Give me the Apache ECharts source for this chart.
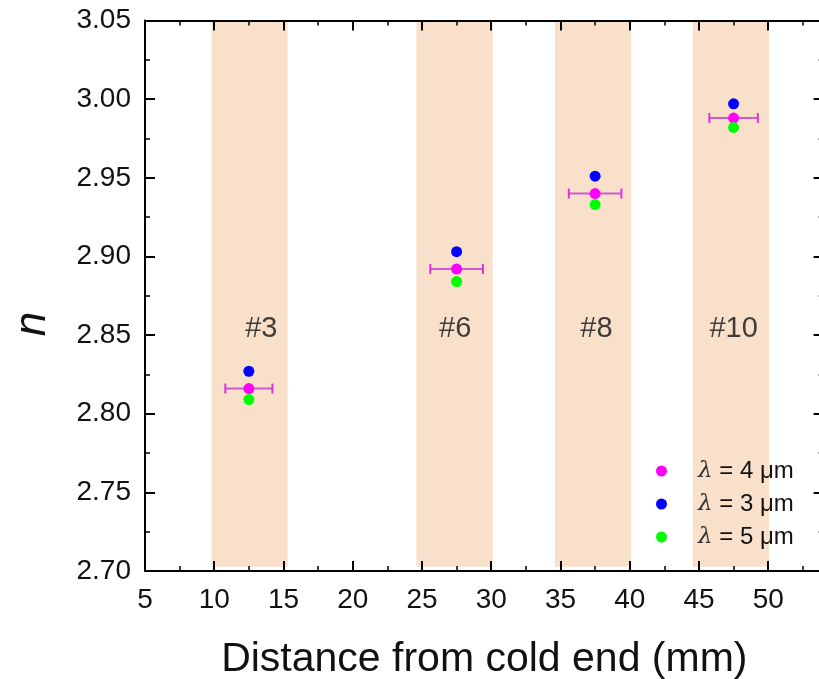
<!DOCTYPE html>
<html><head><meta charset="utf-8">
<script src="https://cdn.jsdelivr.net/npm/echarts@6/dist/echarts.min.js"></script>
<style>html,body{margin:0;padding:0;background:#fff}#c{width:819px;height:679px}</style>
</head><body><div id="c"></div>
<script>
// ---- data ----
const positions = [12.5, 27.5, 37.5, 47.5];
const n4 = [2.816, 2.892, 2.940, 2.988];   // lambda = 4 um
const n3 = [2.827, 2.903, 2.951, 2.997];   // lambda = 3 um
const n5 = [2.809, 2.884, 2.933, 2.982];   // lambda = 5 um
const xErr4 = [1.7, 1.9, 1.9, 1.75];
const sampleLabels = ['#3', '#6', '#8', '#10'];
const labelX = [13.4, 27.4, 37.6, 47.5];
const labelY = 2.854;
const bandStart = [9.8, 24.6, 34.6, 44.55];
const bandEnd = [15.3, 30.1, 40.1, 50.05];
const seriesNames = ['λ = 4 μm', 'λ = 3 μm', 'λ = 5 μm'];
const xTitle = 'Distance from cold end (mm)';
const yTitle = 'n';

const FONT = 'Liberation Sans, Arial, sans-serif';
const X_MIN = 5, X_MAX = 54, Y_MIN = 2.70, Y_MAX = 3.05;

const chart = echarts.init(document.getElementById('c'), null, {renderer: 'canvas'});

const axisLine = {show: true, lineStyle: {color: '#000', width: 2}};
function xAx(pos, interval, opts) {
  return Object.assign({
    type: 'value', position: pos, min: X_MIN, max: X_MAX, interval: interval, z: 10,
    axisLine: axisLine, splitLine: {show: false},
    axisTick: {show: true, inside: true, length: 10, lineStyle: {color: '#000', width: 2}},
    axisLabel: {show: false}
  }, opts || {});
}
function yAx(pos, opts) {
  return Object.assign({
    type: 'value', position: pos, min: Y_MIN, max: Y_MAX, interval: 0.05, z: 10,
    axisLine: axisLine, splitLine: {show: false},
    axisTick: {show: true, inside: true, length: 10, lineStyle: {color: '#000', width: 2}},
    minorTick: {show: true, splitNumber: 2, length: 5, lineStyle: {color: '#000', width: 1.5}},
    axisLabel: {show: false}
  }, opts || {});
}

const option = {
  animation: false,
  backgroundColor: '#fff',
  grid: {left: 145, top: 20.5, width: 678.6, height: 550.5, containLabel: false, outerBoundsMode: 'none'},
  xAxis: [
    xAx('bottom', 5, {
      name: xTitle, nameLocation: 'middle', nameGap: 68,
      nameTextStyle: {fontFamily: FONT, fontSize: 41, color: '#111'},
      axisLabel: {show: true, margin: 15, fontFamily: FONT, fontSize: 28, color: '#111', showMaxLabel: false}
    }),
    xAx('bottom', 2.5, {axisLine: {show: false}, axisTick: {show: true, inside: true, length: 5, lineStyle: {color: '#000', width: 1.5}}}),
    xAx('top', 5),
    xAx('top', 2.5, {axisLine: {show: false}, axisTick: {show: true, inside: true, length: 5, lineStyle: {color: '#000', width: 1.5}}})
  ],
  yAxis: [
    yAx('left', {axisLabel: {show: true, margin: 14, fontFamily: FONT, fontSize: 28, color: '#111',
      formatter: v => v.toFixed(2)}}),
    yAx('right')
  ],
  legend: {
    orient: 'vertical', left: 651, top: 454, itemGap: 9,
    itemWidth: 11, itemHeight: 11, icon: 'circle',
    data: seriesNames,
    formatter: name => '{l|λ}' + name.slice(1),
    textStyle: {fontFamily: FONT, fontSize: 24, color: '#111', lineHeight: 23, padding: [0, 0, 0, 26],
      rich: {l: {fontFamily: 'DejaVu Serif, serif', fontStyle: 'italic', fontSize: 23, color: '#333'}}}
  },
  graphic: [{
    type: 'text', x: 33, y: 324, rotation: Math.PI / 2,
    style: {text: yTitle, fontFamily: FONT, fontStyle: 'italic', fontSize: 44, fill: '#111',
      align: 'center', verticalAlign: 'middle'}
  }],
  series: [
    {
      type: 'scatter', name: 'labels', symbolSize: 0, silent: true, z: 1,
      data: sampleLabels.map((t, i) => [labelX[i], labelY, t]),
      label: {show: true, position: 'inside', formatter: p => p.value[2],
        fontFamily: FONT, fontSize: 29, color: '#111'},
      markArea: {
        silent: true,
        itemStyle: {color: '#F9E0CA'},
        data: bandStart.map((s, i) => [{xAxis: s, yAxis: 2.7027}, {xAxis: bandEnd[i], yAxis: Y_MAX}])
      }
    },
    {
      type: 'custom', name: 'err', z: 3, silent: true,
      data: positions.map((x, i) => [x, n4[i], xErr4[i]]),
      encode: {x: 0, y: 1},
      renderItem: function (params, api) {
        const x = api.value(0), y = api.value(1), e = api.value(2);
        const p1 = api.coord([x - e, y]), p2 = api.coord([x + e, y]);
        const h = 5;
        return {type: 'group', children: [
          {type: 'line', shape: {x1: p1[0], y1: p1[1], x2: p2[0], y2: p2[1]}, style: {stroke: '#CC5CCC', lineWidth: 2}},
          {type: 'line', shape: {x1: p1[0], y1: p1[1] - h, x2: p1[0], y2: p1[1] + h}, style: {stroke: '#E030E0', lineWidth: 2}},
          {type: 'line', shape: {x1: p2[0], y1: p2[1] - h, x2: p2[0], y2: p2[1] + h}, style: {stroke: '#E030E0', lineWidth: 2}}
        ]};
      }
    },
    {type: 'scatter', name: seriesNames[1], symbolSize: 11, z: 4, itemStyle: {color: '#0000FF', opacity: 1},
      data: positions.map((x, i) => [x, n3[i]])},
    {type: 'scatter', name: seriesNames[0], symbolSize: 11, z: 5, itemStyle: {color: '#FF00FF', opacity: 1},
      data: positions.map((x, i) => [x, n4[i]])},
    {type: 'scatter', name: seriesNames[2], symbolSize: 11, z: 6, itemStyle: {color: '#00FF00', opacity: 1},
      data: positions.map((x, i) => [x, n5[i]])}
  ]
};
chart.setOption(option);
</script></body></html>
